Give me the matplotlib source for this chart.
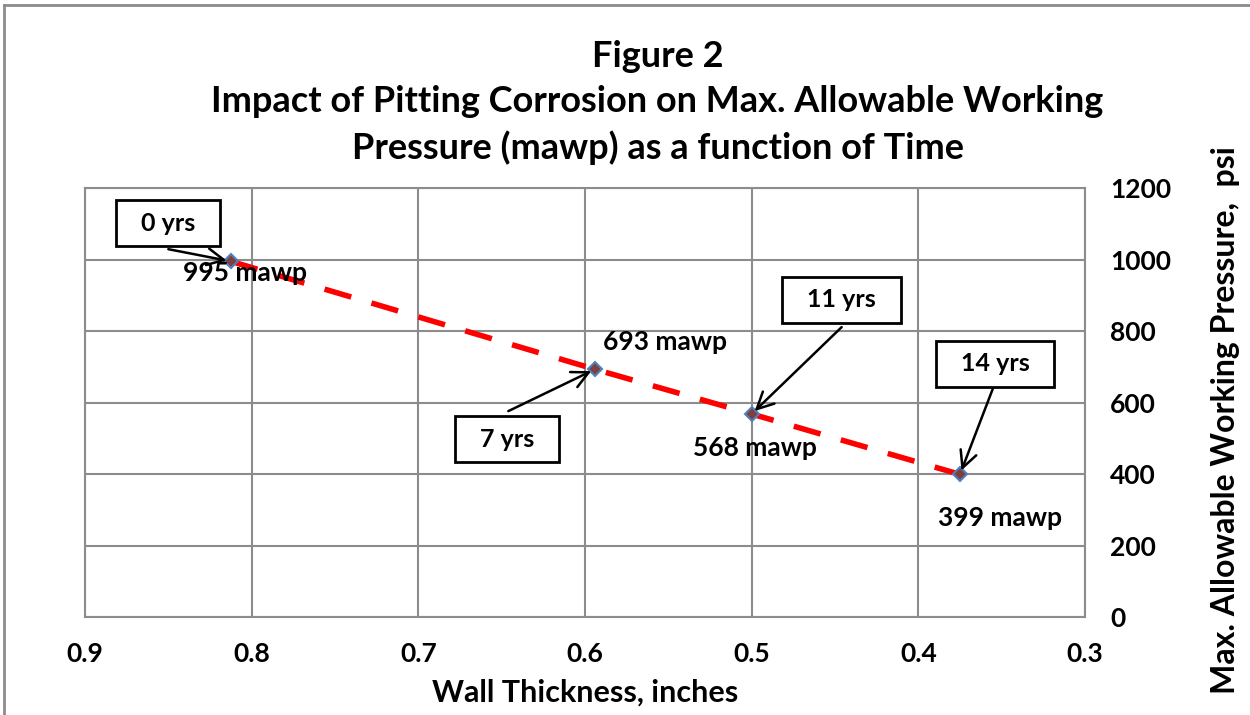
import matplotlib.pyplot as plt
from matplotlib.lines import Line2D
from matplotlib.path import Path

plt.rcParams['font.family'] = ['Lato', 'DejaVu Sans']
plt.rcParams['font.weight'] = 'bold'

# Dati
spessore = [0.8125, 0.594, 0.5, 0.375]      # wall thickness, inches
mawp = [995, 693, 568, 399]                 # psi
anni = ['0 yrs', '7 yrs', '11 yrs', '14 yrs']
etichette_mawp = ['995 mawp', '693 mawp', '568 mawp', '399 mawp']

# posizioni dei box, dell'inizio delle frecce e delle etichette (coordinate dati)
pos_box = [(0.85, 1102), (0.647, 498), (0.446, 887), (0.354, 708)]
inizio_freccia = [(0.850, 1029), (0.646, 576), (0.446, 811), (0.3552, 640)]
pos_mawp = [(0.804, 962), (0.552, 769), (0.498, 473), (0.351, 277)]


def box_largo(x0, y0, width, height, mutation_size):
    # riquadro rettangolare con più margine ai lati che sopra/sotto
    px = 1.0 * mutation_size
    py = 0.45 * mutation_size
    x0, y0 = x0 - px, y0 - py
    x1, y1 = x0 + width + 2 * px, y0 + height + 2 * py
    return Path([(x0, y0), (x1, y0), (x1, y1), (x0, y1), (x0, y0)],
                closed=True)


fig = plt.figure(figsize=(12.5, 7.15), dpi=100)
ax = fig.add_axes([0.068, 0.137, 0.8, 0.6])

# bordo del riquadro esterno (tagliato a destra e in basso come nell'originale)
fig.add_artist(Line2D([0.003, 1.0], [0.993, 0.993], color='#8c8c8c', lw=2))
fig.add_artist(Line2D([0.003, 0.003], [0.0, 0.993], color='#8c8c8c', lw=2))

ax.plot(spessore, mawp, color='#ff0000', lw=4.0, dashes=(5.0, 3.8), zorder=3)
ax.plot(spessore, mawp, ls='none', marker='D', ms=7, mfc='#7f3f3f',
        mec='#4f81bd', mew=1.5, zorder=4)

for i in range(len(anni)):
    ax.text(pos_box[i][0], pos_box[i][1], anni[i], ha='center', va='center',
            fontsize=18, fontweight='bold', zorder=5,
            bbox=dict(boxstyle=box_largo, fc='white', ec='black', lw=2))
    ax.annotate('', xy=(spessore[i], mawp[i]), xytext=inizio_freccia[i],
                arrowprops=dict(arrowstyle='->,head_length=0.6,head_width=0.3',
                                color='black', lw=1.8, shrinkA=0, shrinkB=3,
                                mutation_scale=20),
                zorder=5)
    ax.text(pos_mawp[i][0], pos_mawp[i][1], etichette_mawp[i], ha='center',
            va='center', fontsize=19, fontweight='bold', zorder=5)

ax.set_xlim(0.9, 0.3)
ax.set_ylim(0, 1200)
ax.set_xticks([0.9, 0.8, 0.7, 0.6, 0.5, 0.4, 0.3])
ax.set_yticks(range(0, 1201, 200))
ax.yaxis.tick_right()
ax.yaxis.set_label_position('right')
ax.tick_params(axis='both', length=0, labelsize=19)
ax.tick_params(axis='x', pad=18)
ax.tick_params(axis='y', pad=18)
for lab in ax.get_xticklabels() + ax.get_yticklabels():
    lab.set_fontweight('bold')

ax.grid(True, color='#8c8c8c', lw=1.5)
ax.set_axisbelow(True)
for s in ax.spines.values():
    s.set_color('#8c8c8c')
    s.set_linewidth(1.5)

ax.set_xlabel('Wall Thickness, inches', fontsize=22, fontweight='bold', va='center')
ax.xaxis.set_label_coords(0.5, -0.177)
ax.set_ylabel('Max. Allowable Working Pressure,  psi', fontsize=23,
              fontweight='bold', va='center')
ax.yaxis.set_label_coords(1.14, 0.46)

fig.text(0.526, 0.857, 'Figure 2\nImpact of Pitting Corrosion on Max. Allowable Working\n'
         'Pressure (mawp) as a function of Time', ha='center', va='center',
         fontsize=26, fontweight='bold', linespacing=1.43)

fig.savefig('out.png', dpi=100)
